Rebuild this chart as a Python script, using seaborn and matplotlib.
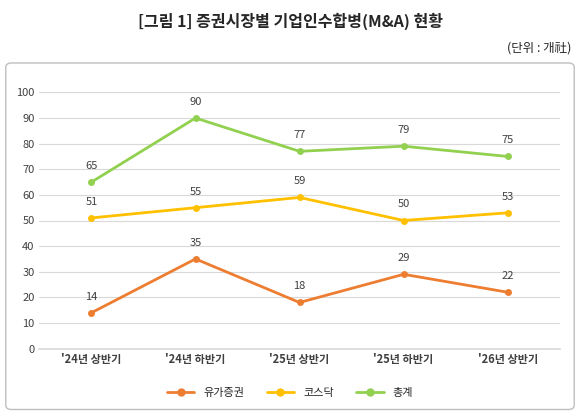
import matplotlib
matplotlib.use("Agg")
import matplotlib.pyplot as plt
import seaborn as sns
import pandas as pd
from matplotlib.patches import FancyBboxPatch

categories = ["'24년 상반기", "'24년 하반기", "'25년 상반기", "'25년 하반기", "'26년 상반기"]
kospi = [14, 35, 18, 29, 22]
kosdaq = [51, 55, 59, 50, 53]
total = [65, 90, 77, 79, 75]
series_names = ["유가증권", "코스닥", "총계"]
colors = ["#ED7D31", "#FFC000", "#92D050"]

sns.set_theme(style="white")
plt.rcParams['font.family'] = ['Noto Sans CJK KR', 'DejaVu Sans']

df = pd.DataFrame({"cat": categories * 3,
                   "val": kospi + kosdaq + total,
                   "series": sum([[n] * 5 for n in series_names], [])})

fig = plt.figure(figsize=(5.8, 4.2), dpi=100)
fig.patches.append(FancyBboxPatch((0.01, 0.025), 0.98, 0.825, boxstyle="round,pad=0,rounding_size=0.01",
                                  transform=fig.transFigure, fill=False, edgecolor="#bfbfbf", lw=1))
fig.text(0.5, 0.95, "[그림 1] 증권시장별 기업인수합병(M&A) 현황", ha="center", va="center", fontsize=11.5, fontweight="bold")
fig.text(0.985, 0.885, "(단위 : 개社)", ha="right", va="center", fontsize=9)

ax = fig.add_axes([0.068, 0.17, 0.897, 0.61])
sns.lineplot(data=df, x="cat", y="val", hue="series", palette=colors, marker="o",
             markersize=5, markeredgewidth=0, linewidth=2, ax=ax, legend=False)
for vals in [kospi, kosdaq, total]:
    for i, v in enumerate(vals):
        ax.annotate(str(v), (i, v), xytext=(0, 8), textcoords="offset points",
                    ha="center", va="bottom", fontsize=8, color="#404040")
ax.set_ylim(0, 100)
ax.set_yticks(range(0, 101, 10))
ax.set_xlim(-0.5, 4.5)
ax.grid(axis="y", color="#d9d9d9", lw=0.8)
for s in ["top", "right", "left"]:
    ax.spines[s].set_visible(False)
ax.spines["bottom"].set_color("#d9d9d9")
ax.set_xlabel(""); ax.set_ylabel("")
ax.tick_params(axis="both", labelsize=8, colors="#404040", length=0)
for t in ax.get_xticklabels():
    t.set_fontweight("bold")
handles = [plt.Line2D([], [], color=c, marker="o", markersize=5, lw=2) for c in colors]
fig.legend(handles, series_names, loc="center", bbox_to_anchor=(0.5, 0.065), ncol=3,
           frameon=False, fontsize=8, handlelength=2.5, columnspacing=2)
fig.savefig("out.png", dpi=100)
